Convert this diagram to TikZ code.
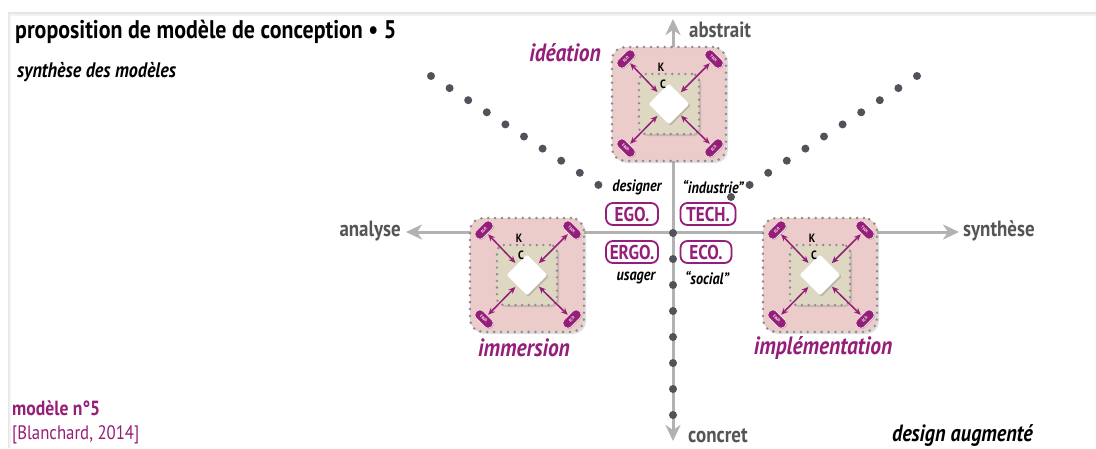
\documentclass[tikz,border=0pt]{standalone}
\usepackage{fontspec}
\setmainfont{PT Sans}[FakeStretch=0.86]
\usetikzlibrary{arrows.meta,shapes.geometric,shadows}
\definecolor{mag}{RGB}{148,30,120}
\definecolor{pinkbg}{RGB}{236,203,203}
\definecolor{beige}{RGB}{222,216,194}
\definecolor{dotgray}{RGB}{80,84,90}
\definecolor{axisgray}{RGB}{178,178,178}
\definecolor{labgray}{RGB}{85,85,85}
\definecolor{bdots}{RGB}{140,140,140}
\tikzset{
  axis/.style={draw=axisgray, line width=3pt, {Stealth[length=16pt,width=15pt,inset=5pt]}-{Stealth[length=16pt,width=15pt,inset=5pt]}},
  axlab/.style={text=labgray, font=\fontsize{22}{24}\selectfont\bfseries, inner sep=0pt},
  bigdot/.style={circle, fill=dotgray, minimum size=8pt, inner sep=0pt},
  outerbox/.style={rectangle, minimum size=114pt, inner sep=0pt, rounded corners=13pt, fill=pinkbg, draw=bdots, line width=2.8pt, dash pattern=on 0pt off 6.9pt, line cap=round, drop shadow={shadow xshift=2pt, shadow yshift=-2pt, opacity=0.25}},
  innerbox/.style={rectangle, minimum size=60pt, inner sep=0pt, rounded corners=7pt, fill=beige, draw=bdots, line width=2.6pt, dash pattern=on 0pt off 6.6pt, line cap=round, drop shadow={shadow xshift=2pt, shadow yshift=-2pt, opacity=0.3}},
  diam/.style={diamond, minimum width=41pt, minimum height=41pt, inner sep=0pt, fill=white, rounded corners=1.5pt, drop shadow={shadow xshift=1.5pt, shadow yshift=-1.5pt, opacity=0.35}},
  klet/.style={font=\fontsize{12}{13}\selectfont\bfseries, inner sep=0pt},
  cbadge/.style={rectangle, rounded corners=4pt, fill=mag, draw=white, line width=0.4pt, minimum width=21pt, minimum height=9.5pt, inner sep=0pt, text=white, font=\fontsize{4}{4.5}\selectfont\bfseries, drop shadow={shadow xshift=1pt, shadow yshift=-1pt, opacity=0.3}},
  dbl/.style={draw=mag, line width=1.5pt, {Stealth[length=7pt,width=6pt]}-{Stealth[length=7pt,width=6pt]}, shorten <=1pt, shorten >=2pt},
  qbadge/.style={rectangle, rounded corners=7pt, draw=mag, line width=1.8pt, fill=white, text=mag, font=\fontsize{20}{22}\selectfont\bfseries, minimum height=22pt, inner sep=2pt, drop shadow={shadow xshift=1pt, shadow yshift=-1pt, opacity=0.2}},
  qlab/.style={font=\fontsize{16.5}{18}\selectfont\bfseries\itshape, inner sep=0pt},
  phase/.style={text=mag, font=\fontsize{25}{27}\selectfont\bfseries\itshape, inner sep=0pt},
}
\newcommand\modbox[3]{%
  \begin{scope}[shift={(#2,#3)}]
    \node[outerbox] (#1-out) at (0,0) {};
    \node[innerbox] (#1-in) at (0,0) {};
    \node[diam] (#1-d) at (0,0) {};
    \node[klet] (#1-k) at (-8,-37) {K};
    \node[klet] (#1-c) at (-6,-20) {C};
    \node[cbadge,rotate=45] (#1-tl) at (-43,-45) {EGO.};
    \node[cbadge,rotate=-45] (#1-tr) at (45,-45) {TECH.};
    \node[cbadge,rotate=-45] (#1-bl) at (-43,44) {ERGO.};
    \node[cbadge,rotate=45] (#1-br) at (45,44) {ECO.};
    \foreach \cc in {tl,tr,bl,br} \draw[dbl] (#1-\cc) -- (#1-d);
  \end{scope}}
\begin{document}
\begin{tikzpicture}[x=1pt,y=-1pt]
\useasboundingbox (0,0) rectangle (1096,448);
% page panel with soft shadow
\fill[black!10] (8,12) rectangle (1096,448);
\fill[black!5] (9,13.5) rectangle (1096,448);
\fill[white] (11,16) rectangle (1096,448);
% axes
\coordinate (axW) at (406,232);
\coordinate (axE) at (959,232);
\coordinate (axN) at (673,19);
\coordinate (axS) at (673,441);
\draw[axis] (axW) -- (axE);
\draw[axis] (axS) -- (axN);
\node[axlab, anchor=east] (lanalyse) at (401,231) {analyse};
\node[axlab, anchor=west] (lsynth) at (963,231) {synthèse};
\node[axlab, anchor=west] (labstr) at (689,30) {abstrait};
\node[axlab, anchor=west] (lconcr) at (688,436) {concret};
% dotted lines
\foreach \i in {0,...,9} \node[bigdot] (dl\i) at ({431+18.6*\i},{76+12.1*\i}) {};
\foreach \i in {0,...,10} \node[bigdot] (dr\i) at ({917-18.6*\i},{76+12.1*\i}) {};
\foreach \i in {0,...,7} \node[bigdot] (dv\i) at (673,{233+26*\i}) {};
% modules
\modbox{ide}{669}{104}
\modbox{imm}{527}{275}
\modbox{imp}{820}{275}
\node[phase] (lide) at (565,53) {idéation};
\node[phase] (limm) at (524,348) {immersion};
\node[phase] (limp) at (823,348) {implémentation};
% central quadrant labels
\node[qlab] (ldes) at (637,187) {designer};
\node[qlab] (lind) at (713,187) {“industrie”};
\node[qbadge, minimum width=52pt] (bego) at (632,214) {EGO.};
\node[qbadge, minimum width=55pt] (btech) at (708,214) {TECH.};
\node[qbadge, minimum width=52pt] (bergo) at (632,252) {ERGO.};
\node[qbadge, minimum width=51pt] (beco) at (706,252) {ECO.};
\node[qlab] (lusa) at (636,278) {usager};
\node[qlab] (lsoc) at (707,278) {“social”};
% titles
\node[anchor=west, inner sep=0pt, font=\fontsize{25.5}{27}\selectfont\bfseries] (title) at (15,32) {proposition de modèle de conception • 5};
\node[anchor=west, inner sep=0pt, font=\fontsize{21}{23}\selectfont\bfseries\itshape] (sub) at (17,72) {synthèse des modèles};
\node[anchor=west, inner sep=0pt, text=mag, font=\fontsize{20.5}{22}\selectfont\bfseries] (mod) at (12,408) {modèle n°5};
\node[anchor=west, inner sep=0pt, text=mag, font=\fontsize{19.5}{21}\selectfont] (ref) at (12,435) {[Blanchard, 2014]};
\node[anchor=east, inner sep=0pt, font=\fontsize{23.5}{25}\selectfont\bfseries\itshape] (aug) at (1033,436) {design augmenté};
\end{tikzpicture}
\end{document}
